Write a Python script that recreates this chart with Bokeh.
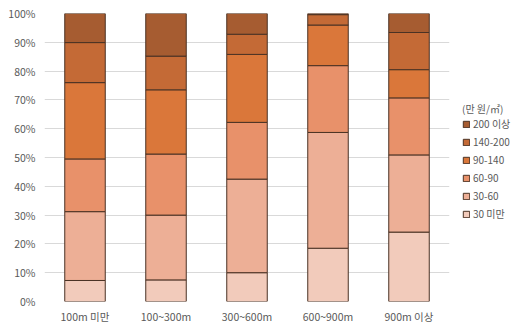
from bokeh.plotting import figure
from bokeh.layouts import row
from bokeh.models import ColumnDataSource, Legend, LegendItem, PrintfTickFormatter, FixedTicker, Range1d
from bokeh.embed import file_html
from bokeh.resources import INLINE

categories = ["100m 미만", "100~300m", "300~600m", "600~900m", "900m 이상"]
series_names = ["30 미만", "30-60", "60-90", "90-140", "140-200", "200 이상"]
under_30 = [7.3, 7.5, 10.0, 18.5, 24.1]
s30_60 = [23.9, 22.5, 32.5, 40.2, 26.8]
s60_90 = [18.3, 21.2, 19.7, 23.2, 19.8]
s90_140 = [26.5, 22.3, 23.6, 14.1, 9.8]
s140_200 = [13.9, 11.7, 7.0, 3.6, 12.9]
over_200 = [10.1, 14.8, 7.2, 0.4, 6.6]
y_ticks = [0, 10, 20, 30, 40, 50, 60, 70, 80, 90, 100]

colors = ["#F2CBBB", "#EDAF96", "#E8916A", "#DA773A", "#C46A36", "#A65C31"]
keys = ["a", "b", "c", "d", "e", "f"]
EDGE = "#4A3224"

source = ColumnDataSource(dict(cat=categories, a=under_30, b=s30_60, c=s60_90,
                               d=s90_140, e=s140_200, f=over_200))

FONT = "Noto Sans CJK KR"
TXT = "#595959"

p = figure(x_range=categories, y_range=(0, 100), width=450, height=327,
           output_backend="svg", toolbar_location=None,
           min_border_left=44, min_border_top=13, min_border_bottom=26, min_border_right=1)
p.outline_line_color = None
p.background_fill_color = "white"

p.vbar_stack(keys, x="cat", width=0.5, source=source, color=colors,
             line_color=EDGE, line_width=1)

p.yaxis.ticker = FixedTicker(ticks=y_ticks)
p.yaxis.formatter = PrintfTickFormatter(format="%d%%")
for ax in (p.xaxis[0], p.yaxis[0]):
    ax.axis_line_color = None
    ax.major_tick_line_color = None
    ax.minor_tick_line_color = None
    ax.major_tick_out = 0
    ax.major_tick_in = 0
    ax.minor_tick_out = 0
    ax.major_label_text_font = FONT
    ax.major_label_text_font_size = "10.5px"
    ax.major_label_text_color = TXT
p.yaxis.major_label_standoff = 9
p.xaxis.major_label_standoff = 7
p.xgrid.grid_line_color = None
p.ygrid.grid_line_color = "#D9D9D9"
p.ygrid.grid_line_width = 1

# legend panel
q = figure(width=66, height=327, x_range=Range1d(0, 1), y_range=Range1d(0, 1),
           output_backend="svg", toolbar_location=None,
           min_border_left=0, min_border_right=0, min_border_top=0, min_border_bottom=0)
q.axis.visible = False
q.grid.visible = False
q.outline_line_color = None
swatches = []
for i in range(6):
    r = q.vbar(x=[5], top=[5], bottom=[4], width=0.5, color=colors[i], line_color=EDGE, line_width=1)
    swatches.append(r)

items = [LegendItem(label=series_names[i], renderers=[swatches[i]]) for i in reversed(range(6))]
legend = Legend(items=items, title="(만 원/㎡)", location=(12, 80))
legend.border_line_color = None
legend.background_fill_alpha = 0
legend.label_text_font = FONT
legend.label_text_font_size = "10px"
legend.label_text_color = TXT
legend.title_text_font = FONT
legend.title_text_font_size = "10px"
legend.title_text_font_style = "normal"
legend.title_text_color = TXT
legend.glyph_width = 8
legend.glyph_height = 8
legend.spacing = 3
legend.label_height = 12
legend.label_standoff = 3
legend.padding = 1
legend.margin = 0
legend.title_standoff = 0
q.add_layout(legend, "center")

layout = row(p, q, spacing=0)
open("out.html", "w").write(file_html(layout, INLINE))
